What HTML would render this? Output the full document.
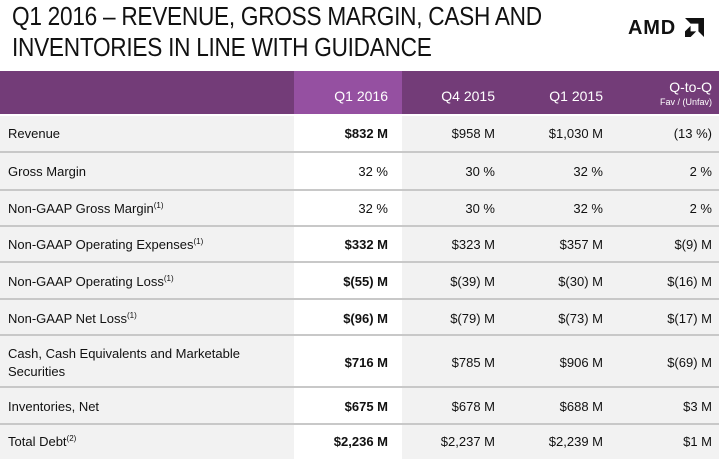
<!DOCTYPE html>
<html><head><meta charset="utf-8"><style>
body{margin:0;width:719px;height:459px;background:#fff;position:relative;overflow:hidden;font-family:"Liberation Sans",sans-serif;color:#111}
.t{position:absolute;left:12px;font-size:26px;color:#111;white-space:nowrap;transform-origin:left top;transform:scaleX(0.87);letter-spacing:-0.3px;line-height:30px}
.hdr{position:absolute;left:0;top:71px;width:719px;height:43px;background:#733c78}
.hl{position:absolute;left:294px;top:71px;width:108px;height:43px;background:#9550a1}
.rowbg{position:absolute;left:0;width:719px;background:#f2f2f2}
.wc{position:absolute;left:294px;width:108px;background:#fff}
.ln{position:absolute;left:0;width:719px;height:2px;background:#c8c8c8}
.c{position:absolute;font-size:13px;white-space:nowrap}
.r{text-align:right}
.h{color:#fff;font-size:14px}
sup{font-size:8px;vertical-align:5px}
b{font-weight:bold}
</style></head><body>
<div class="t" style="top:1px">Q1 2016 – REVENUE, GROSS MARGIN, CASH AND</div>
<div class="t" style="top:32px">INVENTORIES IN LINE WITH GUIDANCE</div>
<div style="position:absolute;left:628px;top:17px;font-size:20px;font-weight:bold;letter-spacing:0.8px">AMD</div>
<svg style="position:absolute;left:685px;top:18px" width="19" height="19" viewBox="0 0 17 17"><path d="M0 0H17V17L12 12V5H5Z" fill="#111"/><path d="M0 12L5 7V12H10L5 17H0Z" fill="#111"/></svg>
<div class="hdr"></div><div class="hl"></div>
<div class="rowbg" style="top:116px;height:343px"></div>
<div class="wc" style="top:116px;height:343px"></div>
<div class="ln" style="top:151px"></div>
<div class="ln" style="top:189px"></div>
<div class="ln" style="top:225px"></div>
<div class="ln" style="top:261px"></div>
<div class="ln" style="top:298px"></div>
<div class="ln" style="top:334px"></div>
<div class="ln" style="top:386px"></div>
<div class="ln" style="top:423px"></div>
<div class="c h r" style="right:331px;top:88px">Q1 2016</div>
<div class="c h r" style="right:224px;top:88px">Q4 2015</div>
<div class="c h r" style="right:116px;top:88px">Q1 2015</div>
<div class="c h r" style="right:7px;top:79px">Q-to-Q</div>
<div class="c h r" style="right:7px;top:97px;font-size:9px">Fav / (Unfav)</div>
<div class="c" style="left:8px;top:126px">Revenue</div>
<div class="c r" style="right:331px;top:126px"><b>$832 M</b></div><div class="c r" style="right:224px;top:126px">$958 M</div><div class="c r" style="right:116px;top:126px">$1,030 M</div><div class="c r" style="right:7px;top:126px">(13 %)</div>
<div class="c" style="left:8px;top:164px">Gross Margin</div>
<div class="c r" style="right:331px;top:164px">32 %</div><div class="c r" style="right:224px;top:164px">30 %</div><div class="c r" style="right:116px;top:164px">32 %</div><div class="c r" style="right:7px;top:164px">2 %</div>
<div class="c" style="left:8px;top:201px">Non-GAAP Gross Margin<sup>(1)</sup></div>
<div class="c r" style="right:331px;top:201px">32 %</div><div class="c r" style="right:224px;top:201px">30 %</div><div class="c r" style="right:116px;top:201px">32 %</div><div class="c r" style="right:7px;top:201px">2 %</div>
<div class="c" style="left:8px;top:237px">Non-GAAP Operating Expenses<sup>(1)</sup></div>
<div class="c r" style="right:331px;top:237px"><b>$332 M</b></div><div class="c r" style="right:224px;top:237px">$323 M</div><div class="c r" style="right:116px;top:237px">$357 M</div><div class="c r" style="right:7px;top:237px">$(9) M</div>
<div class="c" style="left:8px;top:274px">Non-GAAP Operating Loss<sup>(1)</sup></div>
<div class="c r" style="right:331px;top:274px"><b>$(55) M</b></div><div class="c r" style="right:224px;top:274px">$(39) M</div><div class="c r" style="right:116px;top:274px">$(30) M</div><div class="c r" style="right:7px;top:274px">$(16) M</div>
<div class="c" style="left:8px;top:311px">Non-GAAP Net Loss<sup>(1)</sup></div>
<div class="c r" style="right:331px;top:311px"><b>$(96) M</b></div><div class="c r" style="right:224px;top:311px">$(79) M</div><div class="c r" style="right:116px;top:311px">$(73) M</div><div class="c r" style="right:7px;top:311px">$(17) M</div>
<div class="c" style="left:8px;top:346px">Cash, Cash Equivalents and Marketable</div>
<div class="c" style="left:8px;top:364px">Securities</div>
<div class="c r" style="right:331px;top:355px"><b>$716 M</b></div><div class="c r" style="right:224px;top:355px">$785 M</div><div class="c r" style="right:116px;top:355px">$906 M</div><div class="c r" style="right:7px;top:355px">$(69) M</div>
<div class="c" style="left:8px;top:399px">Inventories, Net</div>
<div class="c r" style="right:331px;top:399px"><b>$675 M</b></div><div class="c r" style="right:224px;top:399px">$678 M</div><div class="c r" style="right:116px;top:399px">$688 M</div><div class="c r" style="right:7px;top:399px">$3 M</div>
<div class="c" style="left:8px;top:434px">Total Debt<sup>(2)</sup></div>
<div class="c r" style="right:331px;top:434px"><b>$2,236 M</b></div><div class="c r" style="right:224px;top:434px">$2,237 M</div><div class="c r" style="right:116px;top:434px">$2,239 M</div><div class="c r" style="right:7px;top:434px">$1 M</div>
</body></html>
